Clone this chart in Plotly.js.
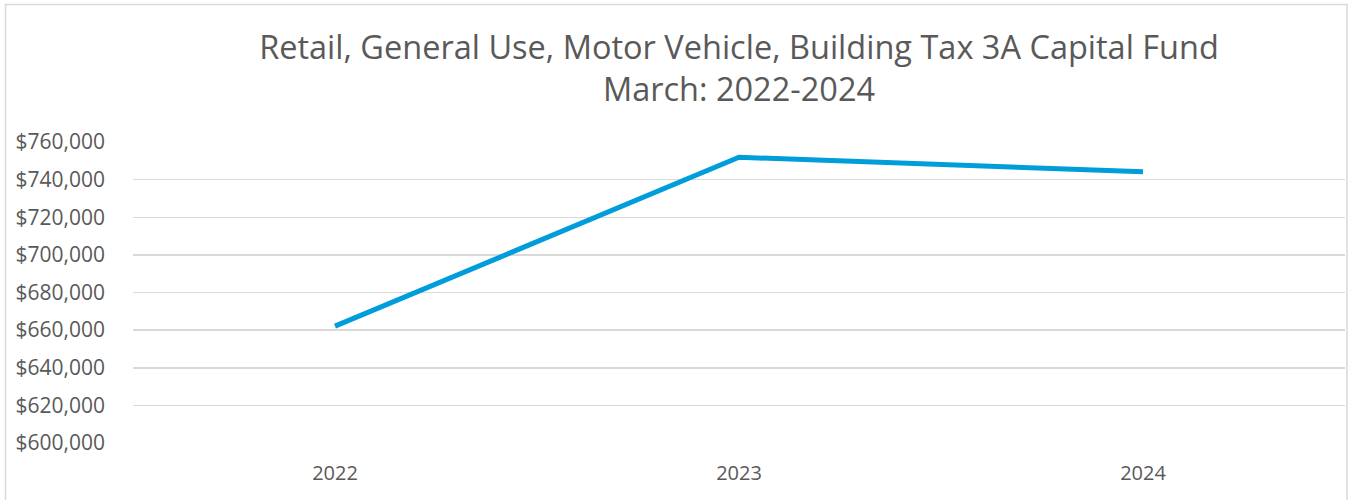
<!DOCTYPE html>
<html>
<head>
<meta charset="utf-8">
<script src="https://cdn.plot.ly/plotly-3.0.1.min.js"></script>
<style>
html, body { margin: 0; padding: 0; background: #ffffff; }
#chart { width: 1350px; height: 500px; }
</style>
</head>
<body>
<div id="chart"></div>
<script>
const years = ["2022", "2023", "2024"];
const revenue = [662100, 751900, 744200];
const yTickValues = [600000, 620000, 640000, 660000, 680000, 700000, 720000, 740000, 760000];
const titleLines = ["Retail, General Use, Motor Vehicle, Building Tax 3A Capital Fund", "March: 2022-2024"];

const fontFamily = "'Open Sans', 'Noto Sans', sans-serif";
const textColor = "#595959";

const trace = {
  x: years,
  y: revenue,
  type: "scatter",
  mode: "lines",
  line: { color: "#009DDB", width: 5 },
  hoverinfo: "x+y"
};

const plotL = 133, plotR = 1345, plotT = 142, plotB = 443;
const pw = plotR - plotL, ph = plotB - plotT;
function px(x) { return (x - plotL) / pw; }
function py(y) { return (plotB - y) / ph; }

const layout = {
  width: 1350,
  height: 500,
  margin: { l: plotL, r: 1350 - plotR, t: plotT, b: 500 - plotB, pad: 0 },
  paper_bgcolor: "#ffffff",
  plot_bgcolor: "#ffffff",
  showlegend: false,
  title: {
    text: titleLines.join("<br>"),
    font: { family: fontFamily, size: 32.5, color: textColor },
    x: 0.5,
    xref: "paper",
    xanchor: "center",
    y: 1 - 59 / 500,
    yref: "container",
    yanchor: "middle"
  },
  xaxis: {
    type: "category",
    range: [-0.5, 2.5],
    showgrid: false,
    zeroline: false,
    showline: false,
    ticks: "",
    tickfont: { family: fontFamily, size: 20, color: textColor },
    ticklabelstandoff: 16
  },
  yaxis: {
    range: [600000, 760000],
    tickvals: yTickValues,
    tickformat: "$,.0f",
    showgrid: true,
    gridcolor: "#d9d9d9",
    gridwidth: 1.5,
    zeroline: false,
    showline: false,
    ticks: "",
    tickfont: { family: fontFamily, size: 21, color: textColor },
    ticklabelstandoff: 27
  },
  shapes: [
    {
      type: "rect", xref: "paper", yref: "paper",
      x0: px(5.5), x1: px(1347), y0: py(4.5), y1: py(505),
      line: { color: "#d9d9d9", width: 1.5 },
      fillcolor: "rgba(0,0,0,0)", layer: "below"
    }
  ]
};

Plotly.newPlot("chart", [trace], layout, { displayModeBar: false, staticPlot: true });
</script>
</body>
</html>
